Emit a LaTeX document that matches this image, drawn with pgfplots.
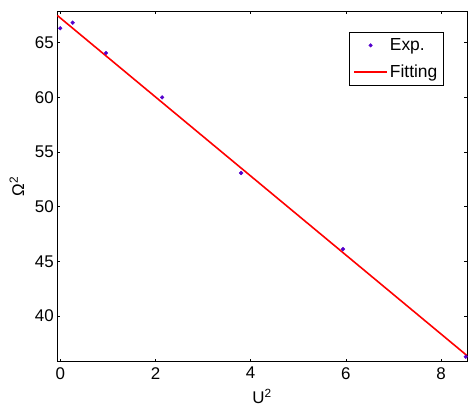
\documentclass[border=0pt]{standalone}
\usepackage{pgfplots}
\pgfplotsset{compat=1.18}
\usepackage{fontspec}
\setmainfont{Liberation Sans}
\definecolor{expc}{rgb}{0.33,0.0,0.80}
\pgfplotsset{
  dotlegend/.style={legend image code/.code={\fill[expc] (17.5bp,0bp) circle[radius=1.7bp];}},
  linelegend/.style={legend image code/.code={\draw[red, line width=1.6bp] (1bp,0bp) -- (34bp,0bp);}},
}
\begin{document}
\begin{tikzpicture}
\begin{axis}[
  scale only axis,
  width=409.7bp, height=350.4bp,
  xmin=-0.063, xmax=8.546,
  ymin=35.82, ymax=67.87,
  xtick={0,2,4,6,8},
  ytick={40,45,50,55,60,65},
  tick align=inside,
  major tick length=3bp,
  axis line style={line width=0.9bp},
  every tick/.style={black, line width=0.6bp},
  /pgf/number format/assume math mode=true,
  tick label style={font=\fontsize{17}{20}\selectfont},
  xticklabel style={yshift=-2bp},
  label style={font=\fontsize{17}{20}\selectfont},
  xlabel={U\textsuperscript{2}},
  ylabel={Ω\textsuperscript{2}},
  xlabel style={yshift=-3bp},
  ylabel style={yshift=4bp},
  legend style={at={(0.712,0.94)}, anchor=north west,
    font=\fontsize{17.5}{20}\selectfont, draw=black, line width=0.6bp,
    inner xsep=4bp, inner ysep=4bp, row sep=9bp},
  legend cell align=left,
  clip=false,
]
\addplot[only marks, mark=*, mark size=1.9bp, color=expc, dotlegend]
  coordinates {(0,66.32) (0.26,66.83) (0.96,64.06) (2.14,60.0) (3.80,53.08) (5.94,46.12) (8.52,36.28)};
\addlegendentry{Exp.}
\addplot[red, line width=1.6bp, linelegend]
  coordinates {(-0.063,67.49) (8.546,36.38)};
\addlegendentry{Fitting}
\coordinate (bl) at (rel axis cs:0,0);
\end{axis}
\path[use as bounding box] ([shift={(-57.3bp,-49.3bp)}]bl) rectangle ([shift={(411.7bp,361.7bp)}]bl);
\end{tikzpicture}
\end{document}
